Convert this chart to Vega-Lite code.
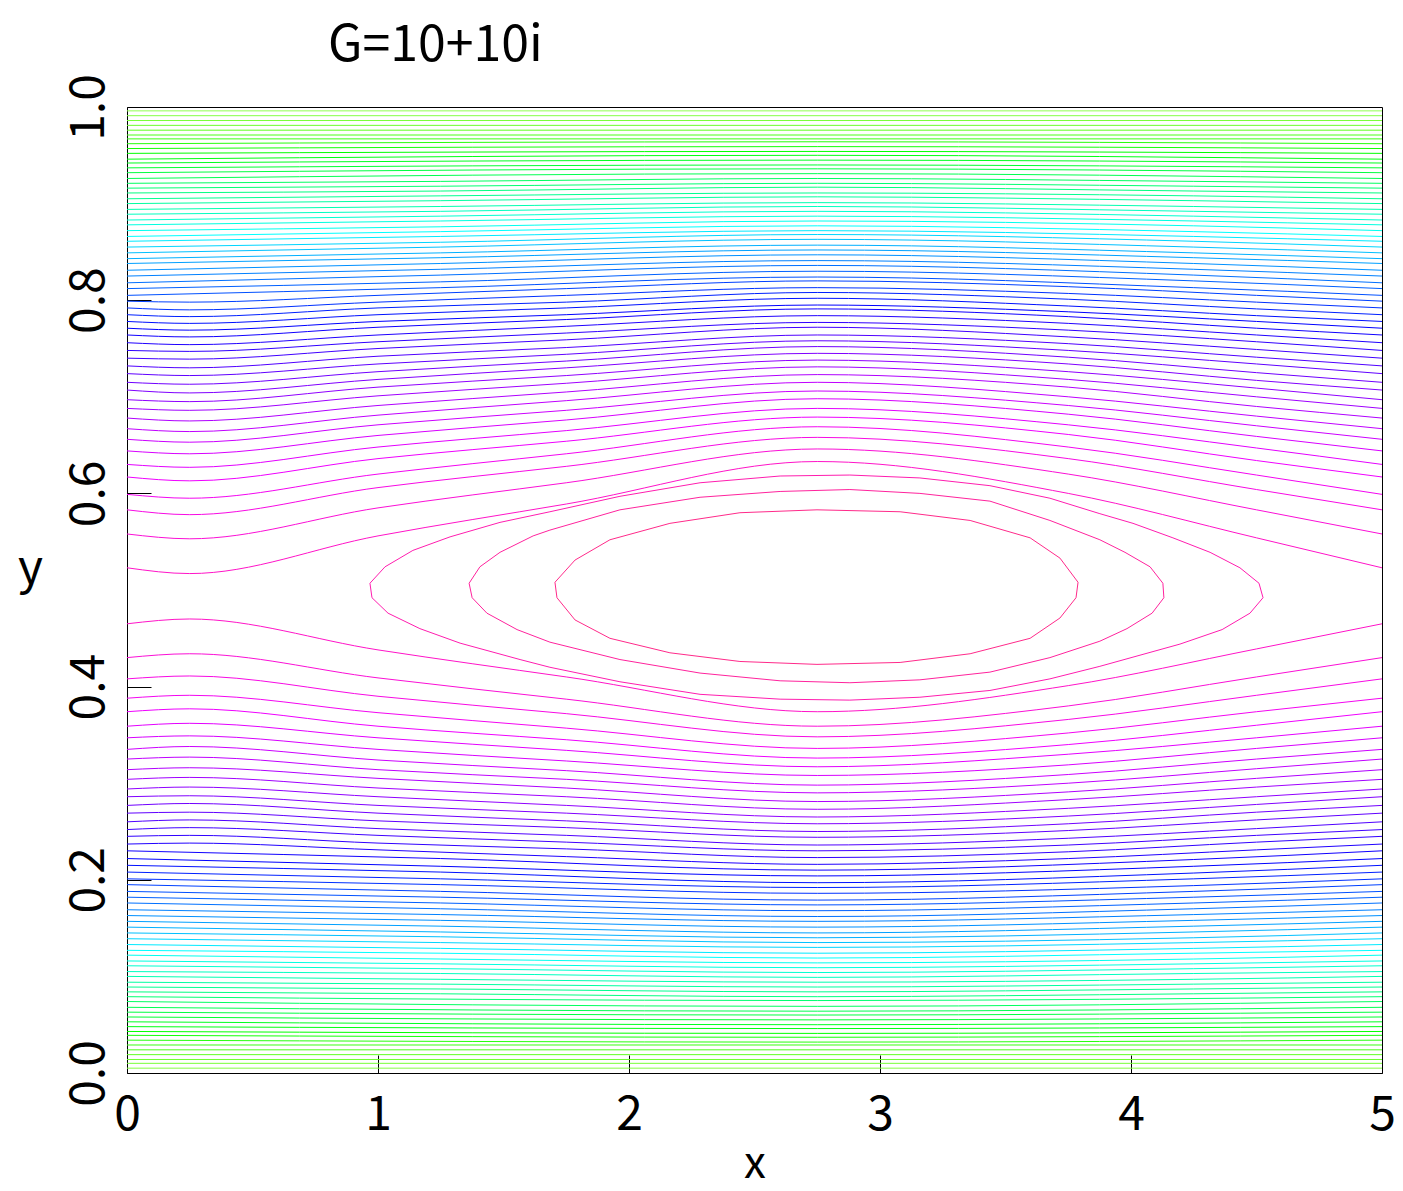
{
"$schema":"https://vega.github.io/schema/vega-lite/v6.json",
"width":1255,"height":966,
"autosize":{"type":"none"},
"padding":{"left":127,"top":107,"right":21,"bottom":118},
"background":"white",
"config":{"view":{"stroke":"black","strokeWidth":1},"font":"Noto Sans CJK JP"},
"title":{"text":"G=10+10i","anchor":"start","frame":"group","dx":201,"dy":53,"offset":16,"baseline":"alphabetic","fontSize":50,"fontWeight":"normal","color":"black","font":"Noto Sans CJK JP"},
"datasets":{
"open":[
{"k":1,"x":0,"y":0.523},{"k":1,"x":0.25,"y":0.517},{"k":1,"x":1,"y":0.556},{"k":1,"x":1.75,"y":0.589},{"k":1,"x":2.75,"y":0.633},{"k":1,"x":3.75,"y":0.600},{"k":1,"x":4.5,"y":0.554},{"k":1,"x":5,"y":0.523},
{"k":2,"x":0,"y":0.558},{"k":2,"x":0.25,"y":0.553},{"k":2,"x":1,"y":0.585},{"k":2,"x":1.75,"y":0.611},{"k":2,"x":2.75,"y":0.646},{"k":2,"x":3.75,"y":0.620},{"k":2,"x":4.5,"y":0.583},{"k":2,"x":5,"y":0.558},
{"k":3,"x":0,"y":0.583},{"k":3,"x":0.25,"y":0.578},{"k":3,"x":1,"y":0.606},{"k":3,"x":1.75,"y":0.628},{"k":3,"x":2.75,"y":0.658},{"k":3,"x":3.75,"y":0.636},{"k":3,"x":4.5,"y":0.604},{"k":3,"x":5,"y":0.583},
{"k":4,"x":0,"y":0.599},{"k":4,"x":0.25,"y":0.595},{"k":4,"x":1,"y":0.620},{"k":4,"x":1.75,"y":0.641},{"k":4,"x":2.75,"y":0.669},{"k":4,"x":3.75,"y":0.648},{"k":4,"x":4.5,"y":0.619},{"k":4,"x":5,"y":0.599},
{"k":5,"x":0,"y":0.617},{"k":5,"x":0.25,"y":0.613},{"k":5,"x":1,"y":0.636},{"k":5,"x":1.75,"y":0.654},{"k":5,"x":2.75,"y":0.679},{"k":5,"x":3.75,"y":0.661},{"k":5,"x":4.5,"y":0.634},{"k":5,"x":5,"y":0.617},
{"k":6,"x":0,"y":0.630},{"k":6,"x":0.25,"y":0.627},{"k":6,"x":1,"y":0.648},{"k":6,"x":1.75,"y":0.665},{"k":6,"x":2.75,"y":0.688},{"k":6,"x":3.75,"y":0.671},{"k":6,"x":4.5,"y":0.647},{"k":6,"x":5,"y":0.630},
{"k":7,"x":0,"y":0.644},{"k":7,"x":0.25,"y":0.641},{"k":7,"x":1,"y":0.660},{"k":7,"x":1.75,"y":0.676},{"k":7,"x":2.75,"y":0.698},{"k":7,"x":3.75,"y":0.682},{"k":7,"x":4.5,"y":0.659},{"k":7,"x":5,"y":0.644},
{"k":8,"x":0,"y":0.656},{"k":8,"x":0.25,"y":0.653},{"k":8,"x":1,"y":0.671},{"k":8,"x":1.75,"y":0.686},{"k":8,"x":2.75,"y":0.706},{"k":8,"x":3.75,"y":0.691},{"k":8,"x":4.5,"y":0.670},{"k":8,"x":5,"y":0.656},
{"k":9,"x":0,"y":0.667},{"k":9,"x":0.25,"y":0.664},{"k":9,"x":1,"y":0.681},{"k":9,"x":1.75,"y":0.696},{"k":9,"x":2.75,"y":0.715},{"k":9,"x":3.75,"y":0.700},{"k":9,"x":4.5,"y":0.680},{"k":9,"x":5,"y":0.667},
{"k":10,"x":0,"y":0.678},{"k":10,"x":0.25,"y":0.675},{"k":10,"x":1,"y":0.691},{"k":10,"x":1.75,"y":0.705},{"k":10,"x":2.75,"y":0.723},{"k":10,"x":3.75,"y":0.710},{"k":10,"x":4.5,"y":0.690},{"k":10,"x":5,"y":0.678},
{"k":11,"x":0,"y":0.688},{"k":11,"x":0.25,"y":0.686},{"k":11,"x":1,"y":0.701},{"k":11,"x":1.75,"y":0.714},{"k":11,"x":2.75,"y":0.731},{"k":11,"x":3.75,"y":0.718},{"k":11,"x":4.5,"y":0.700},{"k":11,"x":5,"y":0.688},
{"k":12,"x":0,"y":0.697},{"k":12,"x":0.25,"y":0.695},{"k":12,"x":1,"y":0.710},{"k":12,"x":1.75,"y":0.722},{"k":12,"x":2.75,"y":0.738},{"k":12,"x":3.75,"y":0.726},{"k":12,"x":4.5,"y":0.709},{"k":12,"x":5,"y":0.697},
{"k":13,"x":0,"y":0.707},{"k":13,"x":0.25,"y":0.704},{"k":13,"x":1,"y":0.718},{"k":13,"x":1.75,"y":0.730},{"k":13,"x":2.75,"y":0.745},{"k":13,"x":3.75,"y":0.734},{"k":13,"x":4.5,"y":0.717},{"k":13,"x":5,"y":0.707},
{"k":14,"x":0,"y":0.715},{"k":14,"x":0.25,"y":0.713},{"k":14,"x":1,"y":0.726},{"k":14,"x":1.75,"y":0.737},{"k":14,"x":2.75,"y":0.752},{"k":14,"x":3.75,"y":0.741},{"k":14,"x":4.5,"y":0.725},{"k":14,"x":5,"y":0.715},
{"k":15,"x":0,"y":0.724},{"k":15,"x":0.25,"y":0.722},{"k":15,"x":1,"y":0.734},{"k":15,"x":1.75,"y":0.744},{"k":15,"x":2.75,"y":0.758},{"k":15,"x":3.75,"y":0.748},{"k":15,"x":4.5,"y":0.734},{"k":15,"x":5,"y":0.724},
{"k":16,"x":0,"y":0.732},{"k":16,"x":0.25,"y":0.730},{"k":16,"x":1,"y":0.742},{"k":16,"x":1.75,"y":0.751},{"k":16,"x":2.75,"y":0.764},{"k":16,"x":3.75,"y":0.755},{"k":16,"x":4.5,"y":0.741},{"k":16,"x":5,"y":0.732},
{"k":17,"x":0,"y":0.740},{"k":17,"x":0.25,"y":0.739},{"k":17,"x":1,"y":0.750},{"k":17,"x":1.75,"y":0.759},{"k":17,"x":2.75,"y":0.772},{"k":17,"x":3.75,"y":0.762},{"k":17,"x":4.5,"y":0.749},{"k":17,"x":5,"y":0.740},
{"k":18,"x":0,"y":0.748},{"k":18,"x":0.25,"y":0.747},{"k":18,"x":1,"y":0.757},{"k":18,"x":1.75,"y":0.766},{"k":18,"x":2.75,"y":0.777},{"k":18,"x":3.75,"y":0.769},{"k":18,"x":4.5,"y":0.757},{"k":18,"x":5,"y":0.748},
{"k":19,"x":0,"y":0.756},{"k":19,"x":0.25,"y":0.754},{"k":19,"x":1,"y":0.764},{"k":19,"x":1.75,"y":0.773},{"k":19,"x":2.75,"y":0.784},{"k":19,"x":3.75,"y":0.776},{"k":19,"x":4.5,"y":0.764},{"k":19,"x":5,"y":0.756},
{"k":20,"x":0,"y":0.764},{"k":20,"x":0.25,"y":0.762},{"k":20,"x":1,"y":0.772},{"k":20,"x":1.75,"y":0.780},{"k":20,"x":2.75,"y":0.791},{"k":20,"x":3.75,"y":0.783},{"k":20,"x":4.5,"y":0.771},{"k":20,"x":5,"y":0.764},
{"k":21,"x":0,"y":0.771},{"k":21,"x":0.25,"y":0.769},{"k":21,"x":1,"y":0.778},{"k":21,"x":1.75,"y":0.785},{"k":21,"x":2.75,"y":0.795},{"k":21,"x":3.75,"y":0.788},{"k":21,"x":4.5,"y":0.778},{"k":21,"x":5,"y":0.771},
{"k":22,"x":0,"y":0.778},{"k":22,"x":0.25,"y":0.776},{"k":22,"x":1,"y":0.785},{"k":22,"x":1.75,"y":0.792},{"k":22,"x":2.75,"y":0.802},{"k":22,"x":3.75,"y":0.794},{"k":22,"x":4.5,"y":0.784},{"k":22,"x":5,"y":0.778},
{"k":23,"x":0,"y":0.785},{"k":23,"x":0.25,"y":0.783},{"k":23,"x":1,"y":0.792},{"k":23,"x":1.75,"y":0.798},{"k":23,"x":2.75,"y":0.808},{"k":23,"x":3.75,"y":0.801},{"k":23,"x":4.5,"y":0.791},{"k":23,"x":5,"y":0.785},
{"k":24,"x":0,"y":0.792},{"k":24,"x":0.25,"y":0.790},{"k":24,"x":1,"y":0.798},{"k":24,"x":1.75,"y":0.805},{"k":24,"x":2.75,"y":0.813},{"k":24,"x":3.75,"y":0.807},{"k":24,"x":4.5,"y":0.798},{"k":24,"x":5,"y":0.792},
{"k":25,"x":0,"y":0.799},{"k":25,"x":0.25,"y":0.798},{"k":25,"x":1,"y":0.805},{"k":25,"x":1.75,"y":0.812},{"k":25,"x":2.75,"y":0.820},{"k":25,"x":3.75,"y":0.814},{"k":25,"x":4.5,"y":0.805},{"k":25,"x":5,"y":0.799},
{"k":26,"x":0,"y":0.805},{"k":26,"x":1.25,"y":0.813},{"k":26,"x":2.75,"y":0.824},{"k":26,"x":4.25,"y":0.813},{"k":26,"x":5,"y":0.805},
{"k":27,"x":0,"y":0.812},{"k":27,"x":1.25,"y":0.819},{"k":27,"x":2.75,"y":0.830},{"k":27,"x":4.25,"y":0.820},{"k":27,"x":5,"y":0.812},
{"k":28,"x":0,"y":0.818},{"k":28,"x":1.25,"y":0.826},{"k":28,"x":2.75,"y":0.836},{"k":28,"x":4.25,"y":0.826},{"k":28,"x":5,"y":0.818},
{"k":29,"x":0,"y":0.825},{"k":29,"x":1.25,"y":0.832},{"k":29,"x":2.75,"y":0.841},{"k":29,"x":4.25,"y":0.832},{"k":29,"x":5,"y":0.825},
{"k":30,"x":0,"y":0.831},{"k":30,"x":1.25,"y":0.838},{"k":30,"x":2.75,"y":0.847},{"k":30,"x":4.25,"y":0.838},{"k":30,"x":5,"y":0.831},
{"k":31,"x":0,"y":0.838},{"k":31,"x":1.25,"y":0.844},{"k":31,"x":2.75,"y":0.852},{"k":31,"x":4.25,"y":0.844},{"k":31,"x":5,"y":0.838},
{"k":32,"x":0,"y":0.843},{"k":32,"x":1.25,"y":0.849},{"k":32,"x":2.75,"y":0.857},{"k":32,"x":4.25,"y":0.849},{"k":32,"x":5,"y":0.843},
{"k":33,"x":0,"y":0.849},{"k":33,"x":1.25,"y":0.855},{"k":33,"x":2.75,"y":0.863},{"k":33,"x":4.25,"y":0.855},{"k":33,"x":5,"y":0.849},
{"k":34,"x":0,"y":0.855},{"k":34,"x":1.25,"y":0.860},{"k":34,"x":2.75,"y":0.868},{"k":34,"x":4.25,"y":0.861},{"k":34,"x":5,"y":0.855},
{"k":35,"x":0,"y":0.861},{"k":35,"x":1.25,"y":0.866},{"k":35,"x":2.75,"y":0.872},{"k":35,"x":4.25,"y":0.866},{"k":35,"x":5,"y":0.861},
{"k":36,"x":0,"y":0.866},{"k":36,"x":1.25,"y":0.871},{"k":36,"x":2.75,"y":0.877},{"k":36,"x":4.25,"y":0.871},{"k":36,"x":5,"y":0.866},
{"k":37,"x":0,"y":0.872},{"k":37,"x":1.25,"y":0.876},{"k":37,"x":2.75,"y":0.882},{"k":37,"x":4.25,"y":0.877},{"k":37,"x":5,"y":0.872},
{"k":38,"x":0,"y":0.878},{"k":38,"x":1.25,"y":0.882},{"k":38,"x":2.75,"y":0.887},{"k":38,"x":4.25,"y":0.882},{"k":38,"x":5,"y":0.878},
{"k":39,"x":0,"y":0.883},{"k":39,"x":1.25,"y":0.887},{"k":39,"x":2.75,"y":0.892},{"k":39,"x":4.25,"y":0.887},{"k":39,"x":5,"y":0.883},
{"k":40,"x":0,"y":0.889},{"k":40,"x":1.25,"y":0.892},{"k":40,"x":2.75,"y":0.897},{"k":40,"x":4.25,"y":0.892},{"k":40,"x":5,"y":0.889},
{"k":41,"x":0,"y":0.894},{"k":41,"x":1.25,"y":0.897},{"k":41,"x":2.75,"y":0.901},{"k":41,"x":4.25,"y":0.897},{"k":41,"x":5,"y":0.894},
{"k":42,"x":0,"y":0.900},{"k":42,"x":1.25,"y":0.903},{"k":42,"x":2.75,"y":0.907},{"k":42,"x":4.25,"y":0.903},{"k":42,"x":5,"y":0.900},
{"k":43,"x":0,"y":0.905},{"k":43,"x":1.25,"y":0.908},{"k":43,"x":2.75,"y":0.911},{"k":43,"x":4.25,"y":0.908},{"k":43,"x":5,"y":0.905},
{"k":44,"x":0,"y":0.911},{"k":44,"x":1.25,"y":0.913},{"k":44,"x":2.75,"y":0.917},{"k":44,"x":4.25,"y":0.913},{"k":44,"x":5,"y":0.911},
{"k":45,"x":0,"y":0.916},{"k":45,"x":1.25,"y":0.918},{"k":45,"x":2.75,"y":0.921},{"k":45,"x":4.25,"y":0.918},{"k":45,"x":5,"y":0.916},
{"k":46,"x":0,"y":0.921},{"k":46,"x":1.25,"y":0.923},{"k":46,"x":2.75,"y":0.926},{"k":46,"x":4.25,"y":0.923},{"k":46,"x":5,"y":0.921},
{"k":47,"x":0,"y":0.926},{"k":47,"x":2.75,"y":0.931},{"k":47,"x":5,"y":0.926},
{"k":48,"x":0,"y":0.932},{"k":48,"x":2.75,"y":0.936},{"k":48,"x":5,"y":0.932},
{"k":49,"x":0,"y":0.937},{"k":49,"x":2.75,"y":0.940},{"k":49,"x":5,"y":0.937},
{"k":50,"x":0,"y":0.942},{"k":50,"x":2.75,"y":0.945},{"k":50,"x":5,"y":0.942},
{"k":51,"x":0,"y":0.946},{"k":51,"x":2.75,"y":0.950},{"k":51,"x":5,"y":0.946},
{"k":52,"x":0,"y":0.952},{"k":52,"x":2.75,"y":0.954},{"k":52,"x":5,"y":0.952},
{"k":53,"x":0,"y":0.957},{"k":53,"x":2.75,"y":0.959},{"k":53,"x":5,"y":0.957},
{"k":54,"x":0,"y":0.962},{"k":54,"x":2.75,"y":0.964},{"k":54,"x":5,"y":0.962},
{"k":55,"x":0,"y":0.967},{"k":55,"x":5,"y":0.967},
{"k":56,"x":0,"y":0.971},{"k":56,"x":5,"y":0.971},
{"k":57,"x":0,"y":0.976},{"k":57,"x":5,"y":0.976},
{"k":58,"x":0,"y":0.981},{"k":58,"x":5,"y":0.981},
{"k":59,"x":0,"y":0.986},{"k":59,"x":5,"y":0.986},
{"k":60,"x":0,"y":0.991},{"k":60,"x":5,"y":0.991},
{"k":61,"x":0,"y":0.996},{"k":61,"x":5,"y":0.996},
{"k":-1,"x":0,"y":0.465},{"k":-1,"x":0.25,"y":0.470},{"k":-1,"x":1,"y":0.438},{"k":-1,"x":1.75,"y":0.410},{"k":-1,"x":2.75,"y":0.374},{"k":-1,"x":3.75,"y":0.401},{"k":-1,"x":4.5,"y":0.439},{"k":-1,"x":5,"y":0.465},
{"k":-2,"x":0,"y":0.430},{"k":-2,"x":0.25,"y":0.434},{"k":-2,"x":1,"y":0.409},{"k":-2,"x":1.75,"y":0.387},{"k":-2,"x":2.75,"y":0.359},{"k":-2,"x":3.75,"y":0.380},{"k":-2,"x":4.5,"y":0.410},{"k":-2,"x":5,"y":0.430},
{"k":-3,"x":0,"y":0.408},{"k":-3,"x":0.25,"y":0.411},{"k":-3,"x":1,"y":0.390},{"k":-3,"x":1.75,"y":0.372},{"k":-3,"x":2.75,"y":0.348},{"k":-3,"x":3.75,"y":0.366},{"k":-3,"x":4.5,"y":0.391},{"k":-3,"x":5,"y":0.408},
{"k":-4,"x":0,"y":0.388},{"k":-4,"x":0.25,"y":0.391},{"k":-4,"x":1,"y":0.373},{"k":-4,"x":1.75,"y":0.357},{"k":-4,"x":2.75,"y":0.336},{"k":-4,"x":3.75,"y":0.352},{"k":-4,"x":4.5,"y":0.374},{"k":-4,"x":5,"y":0.388},
{"k":-5,"x":0,"y":0.374},{"k":-5,"x":0.25,"y":0.377},{"k":-5,"x":1,"y":0.359},{"k":-5,"x":1.75,"y":0.345},{"k":-5,"x":2.75,"y":0.326},{"k":-5,"x":3.75,"y":0.340},{"k":-5,"x":4.5,"y":0.360},{"k":-5,"x":5,"y":0.374},
{"k":-6,"x":0,"y":0.359},{"k":-6,"x":0.25,"y":0.362},{"k":-6,"x":1,"y":0.347},{"k":-6,"x":1.75,"y":0.334},{"k":-6,"x":2.75,"y":0.317},{"k":-6,"x":3.75,"y":0.330},{"k":-6,"x":4.5,"y":0.347},{"k":-6,"x":5,"y":0.359},
{"k":-7,"x":0,"y":0.347},{"k":-7,"x":0.25,"y":0.349},{"k":-7,"x":1,"y":0.335},{"k":-7,"x":1.75,"y":0.323},{"k":-7,"x":2.75,"y":0.308},{"k":-7,"x":3.75,"y":0.319},{"k":-7,"x":4.5,"y":0.336},{"k":-7,"x":5,"y":0.347},
{"k":-8,"x":0,"y":0.335},{"k":-8,"x":0.25,"y":0.338},{"k":-8,"x":1,"y":0.324},{"k":-8,"x":1.75,"y":0.313},{"k":-8,"x":2.75,"y":0.298},{"k":-8,"x":3.75,"y":0.309},{"k":-8,"x":4.5,"y":0.325},{"k":-8,"x":5,"y":0.335},
{"k":-9,"x":0,"y":0.325},{"k":-9,"x":0.25,"y":0.327},{"k":-9,"x":1,"y":0.314},{"k":-9,"x":1.75,"y":0.304},{"k":-9,"x":2.75,"y":0.290},{"k":-9,"x":3.75,"y":0.300},{"k":-9,"x":4.5,"y":0.315},{"k":-9,"x":5,"y":0.325},
{"k":-10,"x":0,"y":0.314},{"k":-10,"x":0.25,"y":0.316},{"k":-10,"x":1,"y":0.305},{"k":-10,"x":1.75,"y":0.295},{"k":-10,"x":2.75,"y":0.281},{"k":-10,"x":3.75,"y":0.291},{"k":-10,"x":4.5,"y":0.305},{"k":-10,"x":5,"y":0.314},
{"k":-11,"x":0,"y":0.304},{"k":-11,"x":0.25,"y":0.306},{"k":-11,"x":1,"y":0.295},{"k":-11,"x":1.75,"y":0.286},{"k":-11,"x":2.75,"y":0.273},{"k":-11,"x":3.75,"y":0.283},{"k":-11,"x":4.5,"y":0.296},{"k":-11,"x":5,"y":0.304},
{"k":-12,"x":0,"y":0.294},{"k":-12,"x":0.25,"y":0.296},{"k":-12,"x":1,"y":0.286},{"k":-12,"x":1.75,"y":0.277},{"k":-12,"x":2.75,"y":0.265},{"k":-12,"x":3.75,"y":0.274},{"k":-12,"x":4.5,"y":0.286},{"k":-12,"x":5,"y":0.294},
{"k":-13,"x":0,"y":0.286},{"k":-13,"x":0.25,"y":0.287},{"k":-13,"x":1,"y":0.277},{"k":-13,"x":1.75,"y":0.269},{"k":-13,"x":2.75,"y":0.258},{"k":-13,"x":3.75,"y":0.266},{"k":-13,"x":4.5,"y":0.278},{"k":-13,"x":5,"y":0.286},
{"k":-14,"x":0,"y":0.277},{"k":-14,"x":0.25,"y":0.279},{"k":-14,"x":1,"y":0.269},{"k":-14,"x":1.75,"y":0.261},{"k":-14,"x":2.75,"y":0.250},{"k":-14,"x":3.75,"y":0.258},{"k":-14,"x":4.5,"y":0.270},{"k":-14,"x":5,"y":0.277},
{"k":-15,"x":0,"y":0.269},{"k":-15,"x":0.25,"y":0.270},{"k":-15,"x":1,"y":0.261},{"k":-15,"x":1.75,"y":0.254},{"k":-15,"x":2.75,"y":0.244},{"k":-15,"x":3.75,"y":0.251},{"k":-15,"x":4.5,"y":0.262},{"k":-15,"x":5,"y":0.269},
{"k":-16,"x":0,"y":0.260},{"k":-16,"x":0.25,"y":0.262},{"k":-16,"x":1,"y":0.253},{"k":-16,"x":1.75,"y":0.246},{"k":-16,"x":2.75,"y":0.236},{"k":-16,"x":3.75,"y":0.243},{"k":-16,"x":4.5,"y":0.253},{"k":-16,"x":5,"y":0.260},
{"k":-17,"x":0,"y":0.252},{"k":-17,"x":0.25,"y":0.254},{"k":-17,"x":1,"y":0.246},{"k":-17,"x":1.75,"y":0.239},{"k":-17,"x":2.75,"y":0.230},{"k":-17,"x":3.75,"y":0.236},{"k":-17,"x":4.5,"y":0.246},{"k":-17,"x":5,"y":0.252},
{"k":-18,"x":0,"y":0.245},{"k":-18,"x":0.25,"y":0.246},{"k":-18,"x":1,"y":0.238},{"k":-18,"x":1.75,"y":0.232},{"k":-18,"x":2.75,"y":0.223},{"k":-18,"x":3.75,"y":0.229},{"k":-18,"x":4.5,"y":0.239},{"k":-18,"x":5,"y":0.245},
{"k":-19,"x":0,"y":0.237},{"k":-19,"x":0.25,"y":0.238},{"k":-19,"x":1,"y":0.231},{"k":-19,"x":1.75,"y":0.224},{"k":-19,"x":2.75,"y":0.216},{"k":-19,"x":3.75,"y":0.222},{"k":-19,"x":4.5,"y":0.231},{"k":-19,"x":5,"y":0.237},
{"k":-20,"x":0,"y":0.230},{"k":-20,"x":1.25,"y":0.222},{"k":-20,"x":2.75,"y":0.210},{"k":-20,"x":4.25,"y":0.221},{"k":-20,"x":5,"y":0.230},
{"k":-21,"x":0,"y":0.222},{"k":-21,"x":1.25,"y":0.214},{"k":-21,"x":2.75,"y":0.204},{"k":-21,"x":4.25,"y":0.214},{"k":-21,"x":5,"y":0.222},
{"k":-22,"x":0,"y":0.215},{"k":-22,"x":1.25,"y":0.208},{"k":-22,"x":2.75,"y":0.197},{"k":-22,"x":4.25,"y":0.207},{"k":-22,"x":5,"y":0.215},
{"k":-23,"x":0,"y":0.208},{"k":-23,"x":1.25,"y":0.201},{"k":-23,"x":2.75,"y":0.192},{"k":-23,"x":4.25,"y":0.201},{"k":-23,"x":5,"y":0.208},
{"k":-24,"x":0,"y":0.201},{"k":-24,"x":1.25,"y":0.195},{"k":-24,"x":2.75,"y":0.186},{"k":-24,"x":4.25,"y":0.194},{"k":-24,"x":5,"y":0.201},
{"k":-25,"x":0,"y":0.195},{"k":-25,"x":1.25,"y":0.188},{"k":-25,"x":2.75,"y":0.179},{"k":-25,"x":4.25,"y":0.188},{"k":-25,"x":5,"y":0.195},
{"k":-26,"x":0,"y":0.188},{"k":-26,"x":1.25,"y":0.182},{"k":-26,"x":2.75,"y":0.174},{"k":-26,"x":4.25,"y":0.182},{"k":-26,"x":5,"y":0.188},
{"k":-27,"x":0,"y":0.182},{"k":-27,"x":1.25,"y":0.176},{"k":-27,"x":2.75,"y":0.168},{"k":-27,"x":4.25,"y":0.176},{"k":-27,"x":5,"y":0.182},
{"k":-28,"x":0,"y":0.176},{"k":-28,"x":1.25,"y":0.170},{"k":-28,"x":2.75,"y":0.162},{"k":-28,"x":4.25,"y":0.170},{"k":-28,"x":5,"y":0.176},
{"k":-29,"x":0,"y":0.169},{"k":-29,"x":1.25,"y":0.164},{"k":-29,"x":2.75,"y":0.157},{"k":-29,"x":4.25,"y":0.164},{"k":-29,"x":5,"y":0.169},
{"k":-30,"x":0,"y":0.163},{"k":-30,"x":1.25,"y":0.158},{"k":-30,"x":2.75,"y":0.151},{"k":-30,"x":4.25,"y":0.158},{"k":-30,"x":5,"y":0.163},
{"k":-31,"x":0,"y":0.157},{"k":-31,"x":1.25,"y":0.152},{"k":-31,"x":2.75,"y":0.145},{"k":-31,"x":4.25,"y":0.152},{"k":-31,"x":5,"y":0.157},
{"k":-32,"x":0,"y":0.151},{"k":-32,"x":1.25,"y":0.146},{"k":-32,"x":2.75,"y":0.140},{"k":-32,"x":4.25,"y":0.146},{"k":-32,"x":5,"y":0.151},
{"k":-33,"x":0,"y":0.145},{"k":-33,"x":1.25,"y":0.141},{"k":-33,"x":2.75,"y":0.135},{"k":-33,"x":4.25,"y":0.140},{"k":-33,"x":5,"y":0.145},
{"k":-34,"x":0,"y":0.139},{"k":-34,"x":1.25,"y":0.135},{"k":-34,"x":2.75,"y":0.130},{"k":-34,"x":4.25,"y":0.135},{"k":-34,"x":5,"y":0.139},
{"k":-35,"x":0,"y":0.133},{"k":-35,"x":1.25,"y":0.129},{"k":-35,"x":2.75,"y":0.124},{"k":-35,"x":4.25,"y":0.129},{"k":-35,"x":5,"y":0.133},
{"k":-36,"x":0,"y":0.127},{"k":-36,"x":1.25,"y":0.124},{"k":-36,"x":2.75,"y":0.119},{"k":-36,"x":4.25,"y":0.124},{"k":-36,"x":5,"y":0.127},
{"k":-37,"x":0,"y":0.122},{"k":-37,"x":1.25,"y":0.118},{"k":-37,"x":2.75,"y":0.114},{"k":-37,"x":4.25,"y":0.118},{"k":-37,"x":5,"y":0.122},
{"k":-38,"x":0,"y":0.116},{"k":-38,"x":1.25,"y":0.113},{"k":-38,"x":2.75,"y":0.109},{"k":-38,"x":4.25,"y":0.113},{"k":-38,"x":5,"y":0.116},
{"k":-39,"x":0,"y":0.111},{"k":-39,"x":1.25,"y":0.108},{"k":-39,"x":2.75,"y":0.104},{"k":-39,"x":4.25,"y":0.108},{"k":-39,"x":5,"y":0.111},
{"k":-40,"x":0,"y":0.105},{"k":-40,"x":1.25,"y":0.103},{"k":-40,"x":2.75,"y":0.099},{"k":-40,"x":4.25,"y":0.103},{"k":-40,"x":5,"y":0.105},
{"k":-41,"x":0,"y":0.100},{"k":-41,"x":1.25,"y":0.097},{"k":-41,"x":2.75,"y":0.094},{"k":-41,"x":4.25,"y":0.097},{"k":-41,"x":5,"y":0.100},
{"k":-42,"x":0,"y":0.094},{"k":-42,"x":1.25,"y":0.092},{"k":-42,"x":2.75,"y":0.089},{"k":-42,"x":4.25,"y":0.092},{"k":-42,"x":5,"y":0.094},
{"k":-43,"x":0,"y":0.089},{"k":-43,"x":1.25,"y":0.087},{"k":-43,"x":2.75,"y":0.084},{"k":-43,"x":4.25,"y":0.087},{"k":-43,"x":5,"y":0.089},
{"k":-44,"x":0,"y":0.084},{"k":-44,"x":1.25,"y":0.082},{"k":-44,"x":2.75,"y":0.079},{"k":-44,"x":4.25,"y":0.082},{"k":-44,"x":5,"y":0.084},
{"k":-45,"x":0,"y":0.079},{"k":-45,"x":2.75,"y":0.075},{"k":-45,"x":5,"y":0.079},
{"k":-46,"x":0,"y":0.074},{"k":-46,"x":2.75,"y":0.069},{"k":-46,"x":5,"y":0.074},
{"k":-47,"x":0,"y":0.068},{"k":-47,"x":2.75,"y":0.064},{"k":-47,"x":5,"y":0.068},
{"k":-48,"x":0,"y":0.063},{"k":-48,"x":2.75,"y":0.060},{"k":-48,"x":5,"y":0.063},
{"k":-49,"x":0,"y":0.058},{"k":-49,"x":2.75,"y":0.055},{"k":-49,"x":5,"y":0.058},
{"k":-50,"x":0,"y":0.053},{"k":-50,"x":2.75,"y":0.050},{"k":-50,"x":5,"y":0.053},
{"k":-51,"x":0,"y":0.048},{"k":-51,"x":2.75,"y":0.046},{"k":-51,"x":5,"y":0.048},
{"k":-52,"x":0,"y":0.043},{"k":-52,"x":2.75,"y":0.041},{"k":-52,"x":5,"y":0.043},
{"k":-53,"x":0,"y":0.039},{"k":-53,"x":2.75,"y":0.037},{"k":-53,"x":5,"y":0.039},
{"k":-54,"x":0,"y":0.034},{"k":-54,"x":2.75,"y":0.032},{"k":-54,"x":5,"y":0.034},
{"k":-55,"x":0,"y":0.029},{"k":-55,"x":5,"y":0.029},
{"k":-56,"x":0,"y":0.024},{"k":-56,"x":5,"y":0.024},
{"k":-57,"x":0,"y":0.019},{"k":-57,"x":5,"y":0.019},
{"k":-58,"x":0,"y":0.014},{"k":-58,"x":5,"y":0.014},
{"k":-59,"x":0,"y":0.010},{"k":-59,"x":5,"y":0.010},
{"k":-60,"x":0,"y":0.005},{"k":-60,"x":5,"y":0.005}
],
"loops":[
{"k":0.6,"o":1,"x":0.968,"y":0.507},{"k":0.6,"o":2,"x":1.028,"y":0.524},{"k":0.6,"o":3,"x":1.139,"y":0.541},{"k":0.6,"o":4,"x":1.287,"y":0.555},{"k":0.6,"o":5,"x":1.486,"y":0.570},{"k":0.6,"o":6,"x":1.685,"y":0.581},{"k":0.6,"o":7,"x":1.964,"y":0.597},{"k":0.6,"o":8,"x":2.283,"y":0.611},{"k":0.6,"o":9,"x":2.602,"y":0.618},{"k":0.6,"o":10,"x":2.880,"y":0.619},{"k":0.6,"o":11,"x":3.159,"y":0.616},{"k":0.6,"o":12,"x":3.438,"y":0.608},{"k":0.6,"o":13,"x":3.677,"y":0.595},{"k":0.6,"o":14,"x":3.876,"y":0.579},{"k":0.6,"o":15,"x":4.008,"y":0.569},{"k":0.6,"o":16,"x":4.167,"y":0.554},{"k":0.6,"o":17,"x":4.315,"y":0.539},{"k":0.6,"o":18,"x":4.434,"y":0.523},{"k":0.6,"o":19,"x":4.510,"y":0.507},{"k":0.6,"o":20,"x":4.526,"y":0.492},{"k":0.6,"o":21,"x":4.474,"y":0.476},{"k":0.6,"o":22,"x":4.363,"y":0.459},{"k":0.6,"o":23,"x":4.195,"y":0.444},{"k":0.6,"o":24,"x":3.876,"y":0.421},{"k":0.6,"o":25,"x":3.677,"y":0.408},{"k":0.6,"o":26,"x":3.438,"y":0.396},{"k":0.6,"o":27,"x":3.159,"y":0.389},{"k":0.6,"o":28,"x":2.880,"y":0.386},{"k":0.6,"o":29,"x":2.602,"y":0.387},{"k":0.6,"o":30,"x":2.283,"y":0.392},{"k":0.6,"o":31,"x":1.964,"y":0.405},{"k":0.6,"o":32,"x":1.685,"y":0.420},{"k":0.6,"o":33,"x":1.566,"y":0.428},{"k":0.6,"o":34,"x":1.327,"y":0.445},{"k":0.6,"o":35,"x":1.167,"y":0.460},{"k":0.6,"o":36,"x":1.040,"y":0.476},{"k":0.6,"o":37,"x":0.976,"y":0.492},{"k":0.6,"o":38,"x":0.968,"y":0.507},
{"k":0.3,"o":1,"x":1.363,"y":0.507},{"k":0.3,"o":2,"x":1.406,"y":0.524},{"k":0.3,"o":3,"x":1.486,"y":0.539},{"k":0.3,"o":4,"x":1.618,"y":0.556},{"k":0.3,"o":5,"x":1.685,"y":0.562},{"k":0.3,"o":6,"x":1.964,"y":0.583},{"k":0.3,"o":7,"x":2.283,"y":0.596},{"k":0.3,"o":8,"x":2.602,"y":0.602},{"k":0.3,"o":9,"x":2.880,"y":0.604},{"k":0.3,"o":10,"x":3.159,"y":0.600},{"k":0.3,"o":11,"x":3.438,"y":0.592},{"k":0.3,"o":12,"x":3.677,"y":0.572},{"k":0.3,"o":13,"x":3.876,"y":0.552},{"k":0.3,"o":14,"x":3.976,"y":0.539},{"k":0.3,"o":15,"x":4.076,"y":0.524},{"k":0.3,"o":16,"x":4.127,"y":0.507},{"k":0.3,"o":17,"x":4.131,"y":0.492},{"k":0.3,"o":18,"x":4.084,"y":0.476},{"k":0.3,"o":19,"x":3.984,"y":0.460},{"k":0.3,"o":20,"x":3.876,"y":0.447},{"k":0.3,"o":21,"x":3.677,"y":0.430},{"k":0.3,"o":22,"x":3.438,"y":0.415},{"k":0.3,"o":23,"x":3.159,"y":0.407},{"k":0.3,"o":24,"x":2.880,"y":0.404},{"k":0.3,"o":25,"x":2.602,"y":0.406},{"k":0.3,"o":26,"x":2.283,"y":0.414},{"k":0.3,"o":27,"x":1.964,"y":0.428},{"k":0.3,"o":28,"x":1.685,"y":0.446},{"k":0.3,"o":29,"x":1.554,"y":0.459},{"k":0.3,"o":30,"x":1.434,"y":0.476},{"k":0.3,"o":31,"x":1.375,"y":0.492},{"k":0.3,"o":32,"x":1.363,"y":0.507},
{"k":0,"o":1,"x":1.705,"y":0.508},{"k":0,"o":2,"x":1.785,"y":0.531},{"k":0,"o":3,"x":1.924,"y":0.552},{"k":0,"o":4,"x":2.163,"y":0.569},{"k":0,"o":5,"x":2.442,"y":0.580},{"k":0,"o":6,"x":2.749,"y":0.583},{"k":0,"o":7,"x":3.080,"y":0.581},{"k":0,"o":8,"x":3.359,"y":0.572},{"k":0,"o":9,"x":3.598,"y":0.554},{"k":0,"o":10,"x":3.717,"y":0.533},{"k":0,"o":11,"x":3.789,"y":0.508},{"k":0,"o":12,"x":3.781,"y":0.492},{"k":0,"o":13,"x":3.717,"y":0.471},{"k":0,"o":14,"x":3.598,"y":0.450},{"k":0,"o":15,"x":3.359,"y":0.434},{"k":0,"o":16,"x":3.080,"y":0.425},{"k":0,"o":17,"x":2.749,"y":0.423},{"k":0,"o":18,"x":2.442,"y":0.426},{"k":0,"o":19,"x":2.163,"y":0.435},{"k":0,"o":20,"x":1.924,"y":0.450},{"k":0,"o":21,"x":1.785,"y":0.469},{"k":0,"o":22,"x":1.713,"y":0.492},{"k":0,"o":23,"x":1.705,"y":0.508}
]},
"layer":[
{"data":{"name":"open"},
 "mark":{"type":"line","interpolate":"monotone","strokeWidth":1,"clip":true},
 "encoding":{
  "x":{"field":"x","type":"quantitative","scale":{"domain":[0,5],"nice":false,"zero":false},
       "axis":{"values":[0,1,2,3,4,5],"format":"d","title":"x","grid":false,"domain":false,"tickSize":-18,"tickColor":"black","tickWidth":1,"labelFlush":false,"labelFontSize":48,"labelColor":"black","labelPadding":36,"titleFontSize":44,"titleFontWeight":"normal","titleColor":"black","titleBaseline":"alphabetic","titleY":104,"labelFont":"Noto Sans CJK JP","titleFont":"Noto Sans CJK JP"}},
  "y":{"field":"y","type":"quantitative","scale":{"domain":[0,1],"nice":false},
       "axis":{"values":[0,0.2,0.4,0.6,0.8,1],"format":".1f","title":"y","grid":false,"domain":false,"tickSize":-24,"tickColor":"black","tickWidth":1,"labelFlush":false,"labelAngle":270,"labelAlign":"center","labelBaseline":"bottom","labelFontSize":48,"labelColor":"black","labelPadding":38,"titleFontSize":48,"titleFontWeight":"normal","titleColor":"black","titleAngle":0,"titleAlign":"center","titleBaseline":"middle","titleX":-97,"titleY":462,"labelFont":"Noto Sans CJK JP","titleFont":"Noto Sans CJK JP"}},
  "color":{"field":"k","type":"quantitative","legend":null,
     "scale":{"domain":[-61,-57,-52,-48,-44,-40,-36,-33,-29,-25,-21,-17,-13,-9,-5,-1,0,1,5,9,13,17,21,25,29,33,36,40,44,48,52,57,61],
              "range":["#90ff50","#60ff20","#00ff00","#00ff40","#00ff80","#00ffc0","#00ffff","#00c0ff","#0080ff","#0040ff","#0000ff","#4000ff","#8000ff","#c000ff","#f000ff","#ff14c8","#ff2a8a","#ff14c8","#f000ff","#c000ff","#8000ff","#4000ff","#0000ff","#0040ff","#0080ff","#00c0ff","#00ffff","#00ffc0","#00ff80","#00ff40","#00ff00","#60ff20","#90ff50"],
              "interpolate":"rgb"}},
  "detail":{"field":"k","type":"nominal"}}},
{"data":{"name":"loops"},
 "mark":{"type":"line","interpolate":"linear","strokeWidth":1,"clip":true},
 "encoding":{
  "x":{"field":"x","type":"quantitative"},
  "y":{"field":"y","type":"quantitative"},
  "color":{"field":"k","type":"quantitative","legend":null},
  "detail":{"field":"k","type":"nominal"},
  "order":{"field":"o","type":"quantitative"}}}
]
}
